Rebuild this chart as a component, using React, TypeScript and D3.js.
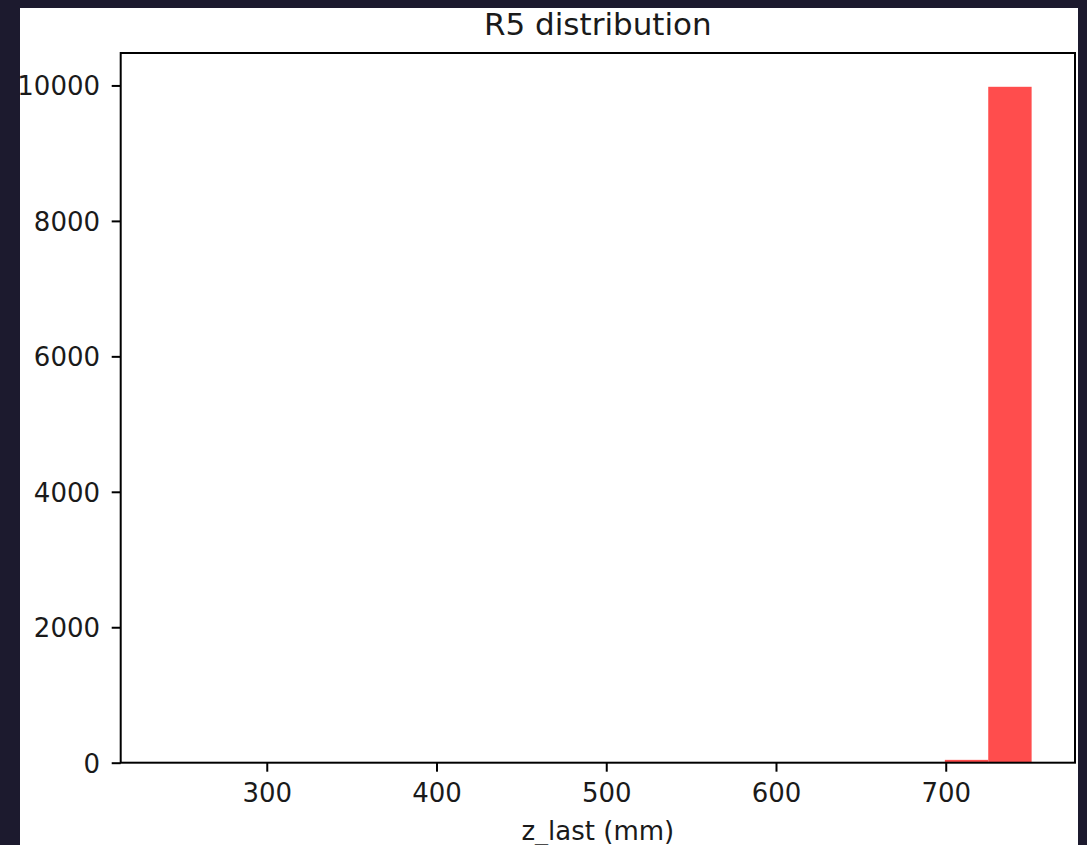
import React, { useEffect, useRef } from 'react'
import * as d3 from 'd3'

// histogram of z_last, 20 equal bins between min and max
const zMin = 239.5
const zMax = 750.6
const binCounts = [1, 0, 0, 0, 0, 0, 0, 0, 0, 0, 0, 0, 0, 0, 0, 0, 0, 0, 42, 9980]
const xTicks = [300, 400, 500, 600, 700]
const yTicks = [0, 2000, 4000, 6000, 8000, 10000]
const title = 'R5 distribution'
const xLabel = 'z_last (mm)'

const W = 1087
const H = 845
const FONT = 'DejaVu Sans, sans-serif'

export default function App() {
	const ref = useRef<SVGSVGElement>(null)

	useEffect(() => {
		const svg = d3.select(ref.current)
		svg.selectAll('*').remove()

		const box = { left: 120.7, right: 1075, top: 53, bottom: 762.7 }

		// page + figure
		svg.append('rect').attr('width', W).attr('height', H).attr('fill', '#1c1a2e')
		svg.append('rect')
			.attr('x', 20).attr('y', 8)
			.attr('width', 1078 - 20).attr('height', H - 8)
			.attr('fill', '#ffffff')

		const pad = 0.05 * (zMax - zMin)
		const x = d3.scaleLinear()
			.domain([zMin - pad, zMax + pad])
			.range([box.left, box.right])

		const y = d3.scaleLinear()
			.domain([0, d3.max(binCounts)! * 1.05])
			.range([box.bottom, box.top])

		const binW = (zMax - zMin) / binCounts.length
		const bins = binCounts.map((c, i) => ({ x0: zMin + i * binW, x1: zMin + (i + 1) * binW, c }))

		svg.append('g')
			.selectAll('rect')
			.data(bins.filter(b => b.c > 0))
			.enter()
			.append('rect')
			.attr('x', d => x(d.x0))
			.attr('width', d => x(d.x1) - x(d.x0))
			.attr('y', d => y(d.c))
			.attr('height', d => y(0) - y(d.c))
			.attr('fill', '#ff4d4d')

		// axes
		const xAxis = svg.append('g')
			.attr('transform', `translate(0, ${box.bottom})`)
			.call(d3.axisBottom(x).tickValues(xTicks).tickSize(9).tickPadding(11.8).tickFormat(d3.format('d')))

		const yAxis = svg.append('g')
			.attr('transform', `translate(${box.left}, 0)`)
			.call(d3.axisLeft(y).tickValues(yTicks).tickSize(9).tickPadding(11.7).tickFormat(d3.format('d')))

		for (const ax of [xAxis, yAxis]) {
			ax.select('.domain').remove()
			ax.selectAll('line').attr('stroke', '#000').attr('stroke-width', 2)
			ax.selectAll('text')
				.attr('fill', '#1a1a1a')
				.style('font-family', FONT)
				.style('font-size', '26px')
		}
		yAxis.selectAll('text').attr('dy', '0.36em')

		// spines
		svg.append('rect')
			.attr('x', box.left).attr('y', box.top)
			.attr('width', box.right - box.left)
			.attr('height', box.bottom - box.top)
			.attr('fill', 'none')
			.attr('stroke', '#000')
			.attr('stroke-width', 2)

		svg.append('text')
			.attr('x', (box.left + box.right) / 2).attr('y', 34.5)
			.attr('text-anchor', 'middle')
			.attr('fill', '#1a1a1a')
			.style('font-family', FONT)
			.style('font-size', '31px')
			.text(title)

		svg.append('text')
			.attr('x', (box.left + box.right) / 2).attr('y', 840)
			.attr('text-anchor', 'middle')
			.attr('fill', '#1a1a1a')
			.style('font-family', FONT)
			.style('font-size', '26px')
			.text(xLabel)
	}, [])

	return (
		<svg ref={ref} width={W} height={H}
			style={{ position: 'absolute', left: 0, top: 0, display: 'block' }} />
	)
}
